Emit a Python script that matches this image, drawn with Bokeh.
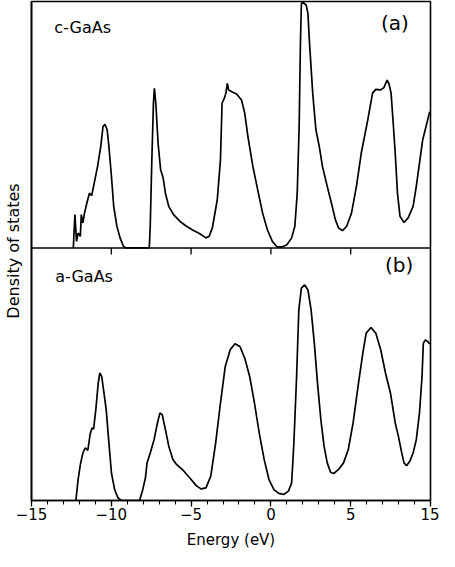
from bokeh.plotting import figure
from bokeh.models import Span, Label, FixedTicker, Range1d
from bokeh.embed import file_html
from bokeh.resources import INLINE

# ---- data ----
c_energy = [-12.38, -12.28, -12.18, -12.08, -11.94, -11.88, -11.78, -11.68, -11.53, -11.37,
            -11.23, -11.07, -10.86, -10.66, -10.52, -10.40, -10.26, -10.15, -9.99, -9.85,
            -9.65, -9.45, -9.24, -9.10, -7.62, -7.56, -7.46, -7.36, -7.30, -7.21,
            -7.07, -6.91, -6.75, -6.61, -6.40, -6.10, -5.69, -5.29, -4.88, -4.48,
            -4.07, -3.87, -3.67, -3.36, -3.16, -3.06, -2.92, -2.82, -2.73, -2.65,
            -2.45, -2.15, -1.84, -1.64, -1.44, -1.13, -0.83, -0.52, -0.22, 0.09,
            0.39, 0.69, 1.00, 1.30, 1.50, 1.65, 1.77, 1.85, 1.91, 2.01,
            2.21, 2.32, 2.42, 2.62, 2.82, 3.03, 3.23, 3.53, 3.84, 4.04,
            4.24, 4.49, 4.75, 5.05, 5.36, 5.66, 6.07, 6.37, 6.57, 6.88,
            7.08, 7.28, 7.39, 7.53, 7.65, 7.79, 7.93, 8.09, 8.34, 8.60,
            8.91, 9.11, 9.31, 9.51, 9.72, 9.95]
c_dos = [0.0, 13.2, 2.6, 5.9, 4.6, 13.2, 9.9, 13.8, 17.8, 21.7,
         20.7, 25.7, 32.3, 40.2, 48.1, 49.0, 46.8, 40.2, 28.3, 16.5,
         8.6, 4.0, 0.7, 0.0, 0.0, 8.6, 34.9, 57.3, 63.2, 57.3,
         41.5, 31.0, 27.7, 21.7, 16.5, 13.2, 10.5, 8.6, 7.0, 5.7,
         4.0, 4.6, 7.9, 19.1, 34.9, 57.3, 59.3, 61.3, 65.2, 62.6,
         61.9, 61.0, 58.6, 53.4, 44.1, 32.3, 23.1, 13.8, 7.2, 2.6,
         0.4, 0.4, 1.3, 4.0, 8.6, 21.7, 48.1, 81.0, 96.8, 97.2,
         96.2, 92.9, 81.0, 61.3, 46.8, 40.2, 32.3, 24.4, 16.5, 11.2,
         7.9, 6.9, 8.6, 13.8, 24.4, 37.5, 50.7, 61.3, 62.8, 62.6,
         63.5, 66.5, 65.2, 61.3, 50.7, 37.5, 21.7, 12.5, 10.1, 11.9,
         16.5, 24.4, 33.6, 42.8, 48.1, 54.0]

a_energy = [-12.22, -12.08, -11.94, -11.78, -11.64, -11.47, -11.33, -11.21, -11.11, -10.97,
            -10.82, -10.72, -10.60, -10.46, -10.32, -10.15, -9.99, -9.79, -9.59, -9.38,
            -8.23, -8.03, -7.86, -7.76, -7.56, -7.32, -7.11, -6.95, -6.81, -6.61,
            -6.40, -6.14, -5.90, -5.49, -5.09, -4.68, -4.38, -4.07, -3.77, -3.46,
            -3.16, -2.86, -2.55, -2.25, -1.94, -1.64, -1.33, -1.03, -0.73, -0.42,
            -0.12, 0.19, 0.49, 0.80, 1.10, 1.30, 1.44, 1.61, 1.75, 1.91,
            2.11, 2.32, 2.52, 2.72, 2.92, 3.13, 3.33, 3.53, 3.74, 3.94,
            4.24, 4.55, 4.85, 5.15, 5.46, 5.76, 5.97, 6.27, 6.57, 6.88,
            7.18, 7.49, 7.79, 7.99, 8.20, 8.34, 8.50, 8.70, 8.91, 9.11,
            9.31, 9.47, 9.55, 9.68, 9.82, 9.95]
a_dos = [0.0, 8.3, 14.2, 18.8, 20.8, 19.9, 26.1, 28.7, 28.3, 36.0,
         46.5, 50.5, 49.1, 42.6, 36.0, 22.8, 10.9, 4.3, 1.1, 0.0,
         0.0, 4.3, 9.0, 14.9, 18.8, 24.1, 30.7, 34.7, 34.0, 28.1,
         21.5, 16.2, 14.2, 11.9, 9.0, 5.9, 4.6, 5.0, 9.6, 22.8,
         38.6, 53.1, 59.7, 62.1, 61.0, 56.4, 49.1, 38.6, 26.7, 16.2,
         8.3, 4.3, 2.8, 2.4, 3.7, 7.0, 22.8, 49.1, 75.5, 84.1,
         85.4, 83.4, 75.5, 62.3, 46.5, 32.0, 21.5, 14.9, 11.2, 10.7,
         12.3, 14.9, 20.2, 30.7, 45.2, 58.4, 66.3, 68.5, 66.3, 59.7,
         50.5, 42.6, 30.7, 25.4, 18.8, 14.9, 13.8, 15.5, 18.8, 24.1,
         34.7, 49.1, 62.3, 63.6, 63.0, 62.0]

major_ticks = [-15, -10, -5, 0, 5, 10]
tick_labels = ["\u221215", "\u221210", "\u22125", "0", "5", "15"]
minor_ticks = list(range(-15, 11))
panel_offset = 100.0   # panel (a) sits on top of panel (b)
y_top = 197.6

p = figure(width=439, height=551, x_range=Range1d(-15, 10), y_range=Range1d(0, y_top),
           output_backend="svg", toolbar_location=None,
           min_border_left=27, min_border_right=9, min_border_top=1, min_border_bottom=50)
p.grid.visible = False
p.outline_line_color = "black"
p.outline_line_width = 1.6
p.background_fill_color = "white"
p.border_fill_color = "white"

FONT = "DejaVu Sans"

p.xaxis.ticker = FixedTicker(ticks=major_ticks, minor_ticks=minor_ticks)
p.xaxis.major_label_overrides = dict(zip(major_ticks, tick_labels))
p.xaxis.axis_line_color = "black"
p.xaxis.axis_line_width = 1.6
p.xaxis.major_tick_in = 0
p.xaxis.major_tick_out = 6
p.xaxis.minor_tick_in = 0
p.xaxis.minor_tick_out = 4
p.xaxis.major_tick_line_width = 1.3
p.xaxis.minor_tick_line_width = 1.1
p.xaxis.major_label_standoff = 1
p.xaxis.major_label_text_font = FONT
p.xaxis.major_label_text_font_size = "15px"
p.xaxis.major_label_text_color = "black"
p.xaxis.axis_label = "Energy (eV)"
p.xaxis.axis_label_text_font = FONT
p.xaxis.axis_label_text_font_size = "15px"
p.xaxis.axis_label_text_font_style = "normal"
p.xaxis.axis_label_standoff = 8
p.xaxis.axis_label_text_color = "black"

p.yaxis.ticker = FixedTicker(ticks=[])
p.yaxis.major_tick_out = 0
p.yaxis.major_tick_in = 0
p.yaxis.minor_tick_out = 0
p.yaxis.axis_line_color = "black"
p.yaxis.axis_line_width = 1.6
p.yaxis.major_label_text_font_size = "0px"
p.yaxis.axis_label = "Density of states"
p.yaxis.axis_label_text_font = FONT
p.yaxis.axis_label_text_font_size = "16px"
p.yaxis.axis_label_text_font_style = "normal"
p.yaxis.axis_label_standoff = 9
p.yaxis.axis_label_text_color = "black"

p.add_layout(Span(location=panel_offset, dimension="width", line_color="black", line_width=1.6))
inner = major_ticks[1:-1]
p.segment(x0=inner, y0=[panel_offset] * len(inner), x1=inner,
          y1=[panel_offset - 2.6] * len(inner), line_color="black", line_width=1.3)

p.line(c_energy, [v + panel_offset for v in c_dos], line_color="black", line_width=1.7)
p.line(a_energy, a_dos, line_color="black", line_width=1.7)

p.add_layout(Label(x=-13.57, y=187.4, text="c-GaAs", text_font=FONT, text_font_size="16px",
                   text_baseline="middle", text_color="black"))
p.add_layout(Label(x=6.9, y=188.9, text="(a)", text_font=FONT, text_font_size="20px",
                   text_baseline="middle", text_color="black"))
p.add_layout(Label(x=-13.51, y=88.9, text="a-GaAs", text_font=FONT, text_font_size="16px",
                   text_baseline="middle", text_color="black"))
p.add_layout(Label(x=7.15, y=93.3, text="(b)", text_font=FONT, text_font_size="20px",
                   text_baseline="middle", text_color="black"))

open("out.html", "w").write(file_html(p, INLINE))
